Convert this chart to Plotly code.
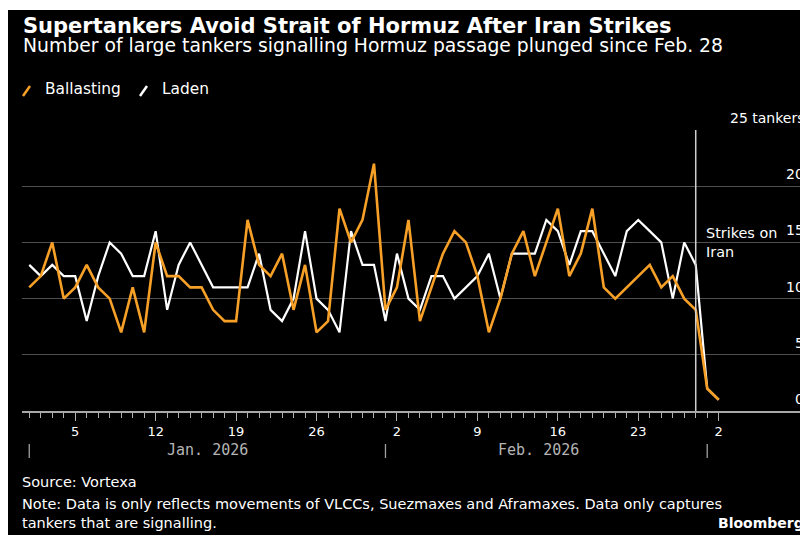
import plotly.graph_objects as go
import pandas as pd

# ---- data (daily, Jan 1 2026 -> Mar 2 2026) ----
dates = pd.date_range("2026-01-01", "2026-03-02", freq="D")
ballasting = [11, 12, 15, 10, 11, 13, 11, 10, 7, 11,
              7, 15, 12, 12, 11, 11, 9, 8, 8, 17,
              13, 12, 14, 9, 13, 7, 8, 18, 15, 17,
              22, 9, 11, 17, 8, 11, 14, 16, 15, 12,
              7, 10, 14, 16, 12, 15, 18, 12, 14, 18,
              11, 10, 11, 12, 13, 11, 12, 10, 9, 2,
              1]
laden = [13, 12, 13, 12, 12, 8, 12, 15, 14, 12,
         12, 16, 9, 13, 15, 13, 11, 11, 11, 11,
         14, 9, 8, 10, 16, 10, 9, 7, 16, 13,
         13, 8, 14, 10, 9, 12, 12, 10, 11, 12,
         14, 10, 14, 14, 14, 17, 16, 13, 16, 16,
         14, 12, 16, 17, 16, 15, 10, 15, 13, 2,
         1]
major_ticks = ["2026-01-05", "2026-01-12", "2026-01-19", "2026-01-26",
               "2026-02-02", "2026-02-09", "2026-02-16", "2026-02-23", "2026-03-02"]
major_labels = ["5", "12", "19", "26", "2", "9", "16", "23", "2"]
y_ticks = [0, 5, 10, 15, 20, 25]
y_labels = ["0", "5", "10", "15", "20", "25 tankers"]
month_labels = ["Jan. 2026", "Feb. 2026"]
month_label_pos = ["2026-01-16 12:00", "2026-02-14 07:00"]
month_breaks = ["2026-01-01", "2026-02-01", "2026-03-01"]
strike_date = "2026-02-28"

ORANGE = "#f7a027"
WHITE = "#ffffff"
FONT = "DejaVu Sans"

# page has an 8px body margin: figure sits at (8, 8) in the window
OFF = 8
W, H = 800, 527
ML, MR, MT = 14, 0, 122
MB = H - (411 - OFF)
PW, PH = W - ML - MR, H - MT - MB


def px(xp):
    """page x pixel -> paper x"""
    return (xp - OFF - ML) / PW


def py(yp):
    """page y pixel -> paper y"""
    return (H - MB - (yp - OFF)) / PH


fig = go.Figure()
fig.add_trace(go.Scatter(x=dates, y=laden, mode="lines", name="Laden",
                         line=dict(color=WHITE, width=2.2), showlegend=False))
fig.add_trace(go.Scatter(x=dates, y=ballasting, mode="lines", name="Ballasting",
                         line=dict(color=ORANGE, width=2.6), showlegend=False))

shapes = [
    # black card
    dict(type="rect", xref="paper", yref="paper", x0=px(7), x1=px(820),
         y0=py(10), y1=py(545), fillcolor="#000000", line=dict(width=0), layer="below"),
    # strike line
    dict(type="line", xref="x", yref="y", x0=strike_date, x1=strike_date, y0=0, y1=25,
         line=dict(color="#cfcfcf", width=1.5)),
    # legend slashes
    dict(type="line", xref="paper", yref="paper", x0=px(23), y0=py(96), x1=px(30), y1=py(86),
         line=dict(color=ORANGE, width=2.5)),
    dict(type="line", xref="paper", yref="paper", x0=px(140), y0=py(96), x1=px(147), y1=py(86),
         line=dict(color=WHITE, width=2.5)),
]
for mb in month_breaks:
    shapes.append(dict(type="line", xref="x", yref="paper", x0=mb, x1=mb,
                       y0=py(444), y1=py(458), line=dict(color="#a0a0a0", width=1.3)))

ann = []
for v, t in zip(y_ticks, y_labels):
    ann.append(dict(xref="paper", yref="y", x=1, y=v, text=t, showarrow=False,
                    xanchor="right", yanchor="bottom", xshift=-2, yshift=2,
                    font=dict(family=FONT, size=14, color=WHITE)))
for lab, pos in zip(month_labels, month_label_pos):
    ann.append(dict(xref="x", yref="paper", x=pos, y=py(450), text=lab, showarrow=False,
                    xanchor="center", yanchor="middle",
                    font=dict(family="DejaVu Sans Mono", size=15, color="#b4b4b4")))
ann.append(dict(xref="x", yref="y", x=strike_date, y=15, text="Strikes on<br>Iran",
                showarrow=False, xanchor="left", yanchor="middle", align="left", xshift=8,
                font=dict(family=FONT, size=14.4, color=WHITE)))
# header
ann.append(dict(xref="paper", yref="paper", x=px(21), y=py(25.5),
                text="<b>Supertankers Avoid Strait of Hormuz After Iran Strikes</b>",
                showarrow=False, xanchor="left", yanchor="middle",
                font=dict(family=FONT, size=21, color=WHITE)))
ann.append(dict(xref="paper", yref="paper", x=px(21), y=py(45),
                text="Number of large tankers signalling Hormuz passage plunged since Feb. 28",
                showarrow=False, xanchor="left", yanchor="middle",
                font=dict(family=FONT, size=18.8, color=WHITE)))
ann.append(dict(xref="paper", yref="paper", x=px(43), y=py(89), text="Ballasting",
                showarrow=False, xanchor="left", yanchor="middle",
                font=dict(family=FONT, size=15.4, color=WHITE)))
ann.append(dict(xref="paper", yref="paper", x=px(160), y=py(89), text="Laden",
                showarrow=False, xanchor="left", yanchor="middle",
                font=dict(family=FONT, size=15.4, color=WHITE)))
# footer
ann.append(dict(xref="paper", yref="paper", x=px(20), y=py(482), text="Source: Vortexa",
                showarrow=False, xanchor="left", yanchor="middle",
                font=dict(family=FONT, size=14.5, color=WHITE)))
ann.append(dict(xref="paper", yref="paper", x=px(20), y=py(513),
                text="Note: Data is only reflects movements of VLCCs, Suezmaxes and Aframaxes. Data only captures<br>tankers that are signalling.",
                showarrow=False, xanchor="left", yanchor="middle", align="left",
                font=dict(family=FONT, size=14.5, color=WHITE)))
ann.append(dict(xref="paper", yref="paper", x=px(806), y=py(523), text="<b>Bloomberg</b>",
                showarrow=False, xanchor="right", yanchor="middle",
                font=dict(family=FONT, size=14, color=WHITE)))

fig.update_layout(
    width=W, height=H,
    margin=dict(l=ML, r=MR, t=MT, b=MB, pad=0),
    paper_bgcolor="#ffffff", plot_bgcolor="#000000",
    showlegend=False,
    shapes=shapes, annotations=ann,
    xaxis=dict(
        type="date",
        range=["2025-12-31 08:51", "2026-03-09 18:29"],
        tickvals=major_ticks, ticktext=major_labels,
        ticks="outside", ticklen=8, tickwidth=1.3, tickcolor="#b0b0b0",
        minor=dict(tickvals=list(dates), ticks="outside", ticklen=5, tickwidth=1.3,
                   tickcolor="#b0b0b0", showgrid=False),
        showgrid=False, zeroline=False,
        showline=True, linecolor="#a8a8a8", linewidth=1.5,
        tickfont=dict(family=FONT, size=13, color=WHITE),
        fixedrange=True,
    ),
    yaxis=dict(
        range=[0, 25], tickvals=y_ticks, showticklabels=False,
        showgrid=True, gridcolor="#4f4f4f", gridwidth=1.3,
        zeroline=False, showline=False, ticks="", fixedrange=True,
    ),
)

fig.write_html(
    "out.html",
    post_script="document.documentElement.style.overflow='hidden';"
                "document.body.style.overflow='hidden';",
)
